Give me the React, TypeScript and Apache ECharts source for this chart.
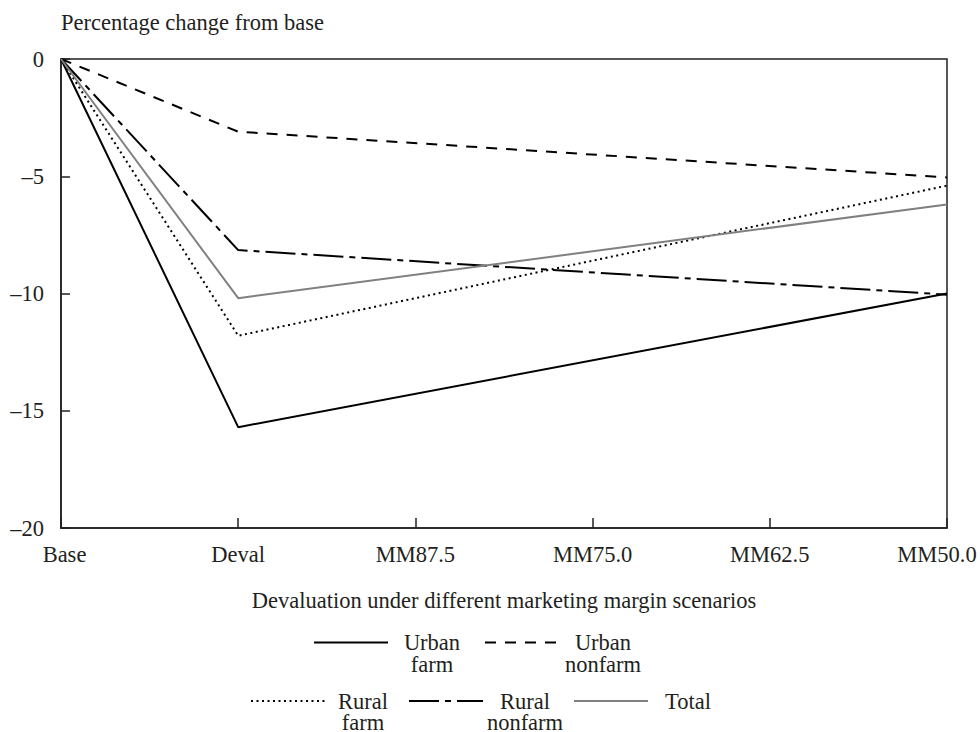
import React, { useEffect, useRef } from "react";
import * as echarts from "echarts";

const categories = ["Base", "Deval", "MM87.5", "MM75.0", "MM62.5", "MM50.0"];
const urbanFarm = [0, -15.7, null, null, null, -10.0];
const urbanNonfarm = [0, -3.1, null, null, null, -5.05];
const ruralFarm = [0, -11.8, null, null, null, -5.4];
const ruralNonfarm = [0, -8.15, null, null, null, -10.05];
const total = [0, -10.2, null, null, null, -6.2];
const yTicks = [0, -5, -10, -15, -20];

const FONT = "'Liberation Serif', 'Times New Roman', serif";
const INK = "#231f20";
const FS = 22.5;

const legendLabels: Record<string, string[]> = {
  "Urban farm": ["Urban", "farm"],
  "Urban nonfarm": ["Urban", "nonfarm"],
  "Rural farm": ["Rural", "farm"],
  "Rural nonfarm": ["Rural", "nonfarm"],
  Total: ["Total"],
};

function makeLegend(name: string, left: number, top: number, w: number, lh: number) {
  return {
    data: [name],
    left,
    top,
    padding: 0,
    itemWidth: 74,
    itemHeight: 14,
    itemGap: 5,
    selectedMode: false,
    itemStyle: { opacity: 0, borderWidth: 0 },
    formatter: (n: string) => {
      const lines = legendLabels[n];
      if (lines.length === 1) return `{a|${lines[0]}}`;
      return `{a| }\n{a|${lines[0]}}\n{a|${lines[1]}}`;
    },
    textStyle: {
      fontFamily: FONT,
      fontSize: FS,
      color: INK,
      rich: {
        a: {
          width: w,
          align: "center",
          lineHeight: lh,
          fontFamily: FONT,
          fontSize: FS,
          color: INK,
        },
      },
    },
  };
}

export default function App() {
  const ref = useRef<HTMLDivElement>(null);
  useEffect(() => {
    if (!ref.current) return;
    const chart = echarts.init(ref.current, null, { renderer: "svg" });
    const mk = (name: string, data: (number | null)[], color: string, type: any) => ({
      name,
      type: "line",
      data,
      connectNulls: true,
      symbol: "none",
      color,
      itemStyle: { color },
      lineStyle: { color, width: 2, type },
      z: 3,
    });
    chart.setOption({
      animation: false,
      backgroundColor: "#ffffff",
      textStyle: { fontFamily: FONT, color: INK },
      grid: {
        left: 61,
        right: 33,
        top: 59,
        bottom: 204,
        show: true,
        borderColor: INK,
        borderWidth: 1.5,
        containLabel: false,
      },
      legend: [
        makeLegend("Urban farm", 313, 609, 78, 22),
        makeLegend("Urban nonfarm", 484, 609, 78, 22),
        makeLegend("Rural farm", 250, 668.5, 66, 21),
        makeLegend("Rural nonfarm", 408, 668.5, 74, 21),
        makeLegend("Total", 573, 689.5, 70, 21),
      ],
      xAxis: {
        type: "category",
        data: categories,
        boundaryGap: false,
        name: "Devaluation under different marketing margin scenarios",
        nameLocation: "middle",
        nameGap: 72,
        nameTextStyle: { fontFamily: FONT, fontSize: FS, color: INK, verticalAlign: "middle" },
        axisLine: { show: true, onZero: false, lineStyle: { color: INK, width: 1.5 } },
        axisTick: { show: true, inside: true, length: 10, interval: 0, lineStyle: { color: INK, width: 1.5 } },
        axisLabel: {
          interval: 0,
          margin: 15,
          fontFamily: FONT,
          fontSize: FS,
          color: INK,
          formatter: (v: string, i: number) =>
            i === 0 ? `{l|${v}}` : i === categories.length - 1 ? `{r|${v}}` : v,
          rich: {
            l: { fontFamily: FONT, fontSize: FS, color: INK, padding: [0, 0, 0, 7] },
            r: { fontFamily: FONT, fontSize: FS, color: INK, padding: [0, 20, 0, 0] },
          },
        },
        splitLine: { show: false },
      },
      yAxis: {
        type: "value",
        min: -20,
        max: 0,
        interval: 5,
        name: "Percentage change from base",
        nameLocation: "end",
        nameGap: 37,
        nameTextStyle: {
          fontFamily: FONT,
          fontSize: FS,
          color: INK,
          align: "left",
          verticalAlign: "middle",
        },
        axisLine: { show: true, lineStyle: { color: INK, width: 1.5 } },
        axisTick: { show: true, inside: true, length: 9, lineStyle: { color: INK, width: 1.5 } },
        axisLabel: {
          margin: 17,
          fontFamily: FONT,
          fontSize: FS,
          color: INK,
          formatter: (v: number) => (yTicks.includes(v) ? String(v).replace("-", "\u2013") : ""),
        },
        splitLine: { show: false },
      },
      series: [
        mk("Urban farm", urbanFarm, "#000000", "solid"),
        mk("Urban nonfarm", urbanNonfarm, "#000000", [11, 9]),
        mk("Rural farm", ruralFarm, "#000000", [2, 3.5]),
        mk("Rural nonfarm", ruralNonfarm, "#000000", [30, 6, 6, 6]),
        mk("Total", total, "#808080", "solid"),
      ],
    });
    return () => chart.dispose();
  }, []);
  return (
    <div
      ref={ref}
      style={{ position: "absolute", left: 0, top: 0, width: 980, height: 732 }}
    />
  );
}
